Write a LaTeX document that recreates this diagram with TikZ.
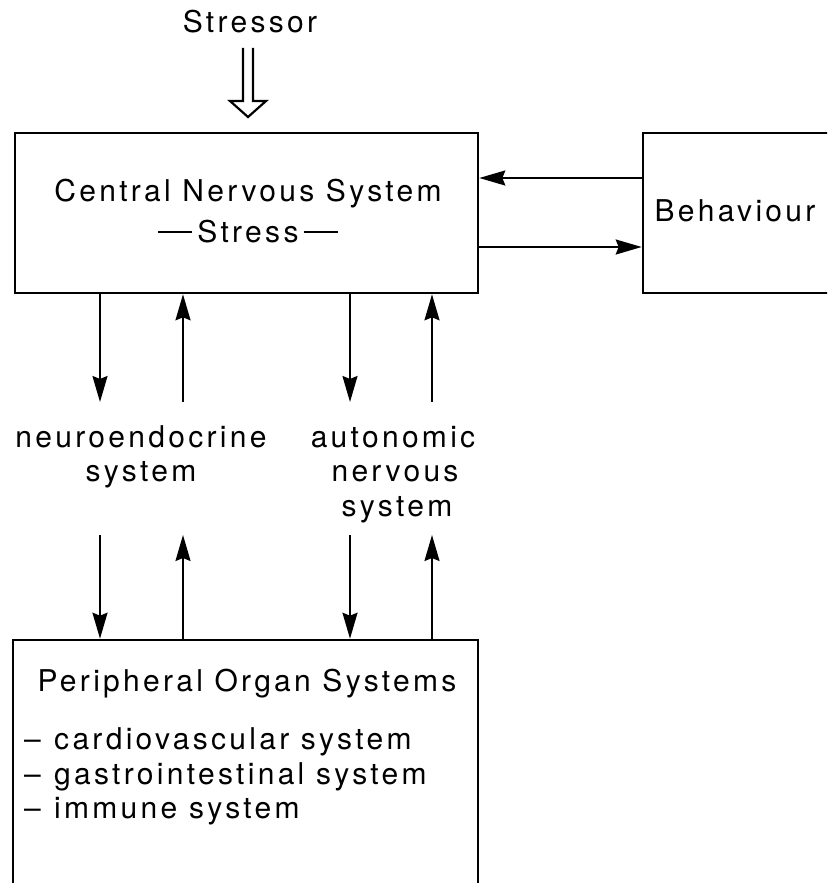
\documentclass[tikz,border=0pt]{standalone}
\usepackage{fontspec}
\setmainfont[LetterSpace=11]{TeX Gyre Heros}
\usetikzlibrary{arrows.meta}
\begin{document}
\begin{tikzpicture}[x=1pt,y=-1pt,
  box/.style={draw, line width=2.6pt, rectangle, inner sep=0pt},
  txt/.style={inner sep=0pt, font=\fontsize{30}{36}\selectfont},
  arr/.style={line width=2pt, -{Stealth[length=26pt,width=15pt,inset=3pt]}},
  dashline/.style={line width=2.4pt},
]
\clip (0,0) rectangle (827,883);
\fill[white] (0,0) rectangle (827,883);

% boxes
\node[box, minimum width=463pt, minimum height=160pt] (cns) at (246.5,213) {};
\node[box, minimum width=240pt, minimum height=160pt] (beh) at (763,213) {};
\node[box, minimum width=465pt, minimum height=320pt] (per) at (245.5,800) {};

% stressor
\node[txt, anchor=base] (stressor) at (250,33) {Stressor};
\draw[line width=2.2pt, line join=miter] (243,48) -- (243,101) -- (230,101) -- (248,117) -- (266,101) -- (253,101) -- (253,48);

% CNS text
\node[txt, anchor=base] (cnstext) at (248,201) {Central Nervous System};
\node[txt, anchor=base] (stress) at (248,242) {Stress};
\draw[dashline] ([xshift=-5pt,yshift=10pt]stress.base west) -- ++(-34,0);
\draw[dashline] ([xshift=5pt,yshift=10pt]stress.base east) -- ++(34,0);

% Behaviour
\node[txt, anchor=base] (behtext) at (735,221) {Behaviour};
\draw[arr] ([yshift=35pt]beh.west) -- ([yshift=35pt]cns.east);
\draw[arr] ([yshift=-34pt]cns.east) -- ([yshift=-34pt]beh.west);

% labels
\node[txt, anchor=base] (neuroA) at (141,447) {neuroendocrine};
\node[txt, anchor=base] (neuroB) at (141,481) {system};
\node[txt, anchor=base] (autoA) at (393,447) {autonomic};
\node[txt, anchor=base] (autoB) at (395,481) {nervous};
\node[txt, anchor=base] (autoC) at (397,516) {system};

% vertical connectors
\coordinate (c1) at (100,402);
\coordinate (c2) at (183,402);
\coordinate (c3) at (350,402);
\coordinate (c4) at (432,402);
\coordinate (d1) at (100,535);
\coordinate (d2) at (183,535);
\coordinate (d3) at (350,535);
\coordinate (d4) at (432,535);
\draw[arr] (cns.south -| c1) -- (c1);
\draw[arr] (c2) -- (cns.south -| c2);
\draw[arr] (cns.south -| c3) -- (c3);
\draw[arr] (c4) -- (cns.south -| c4);
\draw[arr] (d1) -- (per.north -| d1);
\draw[arr] (per.north -| d2) -- (d2);
\draw[arr] (d3) -- (per.north -| d3);
\draw[arr] (per.north -| d4) -- (d4);

% peripheral text
\node[txt, anchor=base] (pertitle) at (247,691) {Peripheral Organ Systems};
\node[txt, anchor=base west] (item1) at (24,749) {\makebox[30pt][l]{–}cardiovascular system};
\node[txt, anchor=base west] (item2) at (24,784) {\makebox[30pt][l]{–}gastrointestinal system};
\node[txt, anchor=base west] (item3) at (24,818) {\makebox[30pt][l]{–}immune system};
\end{tikzpicture}
\end{document}
